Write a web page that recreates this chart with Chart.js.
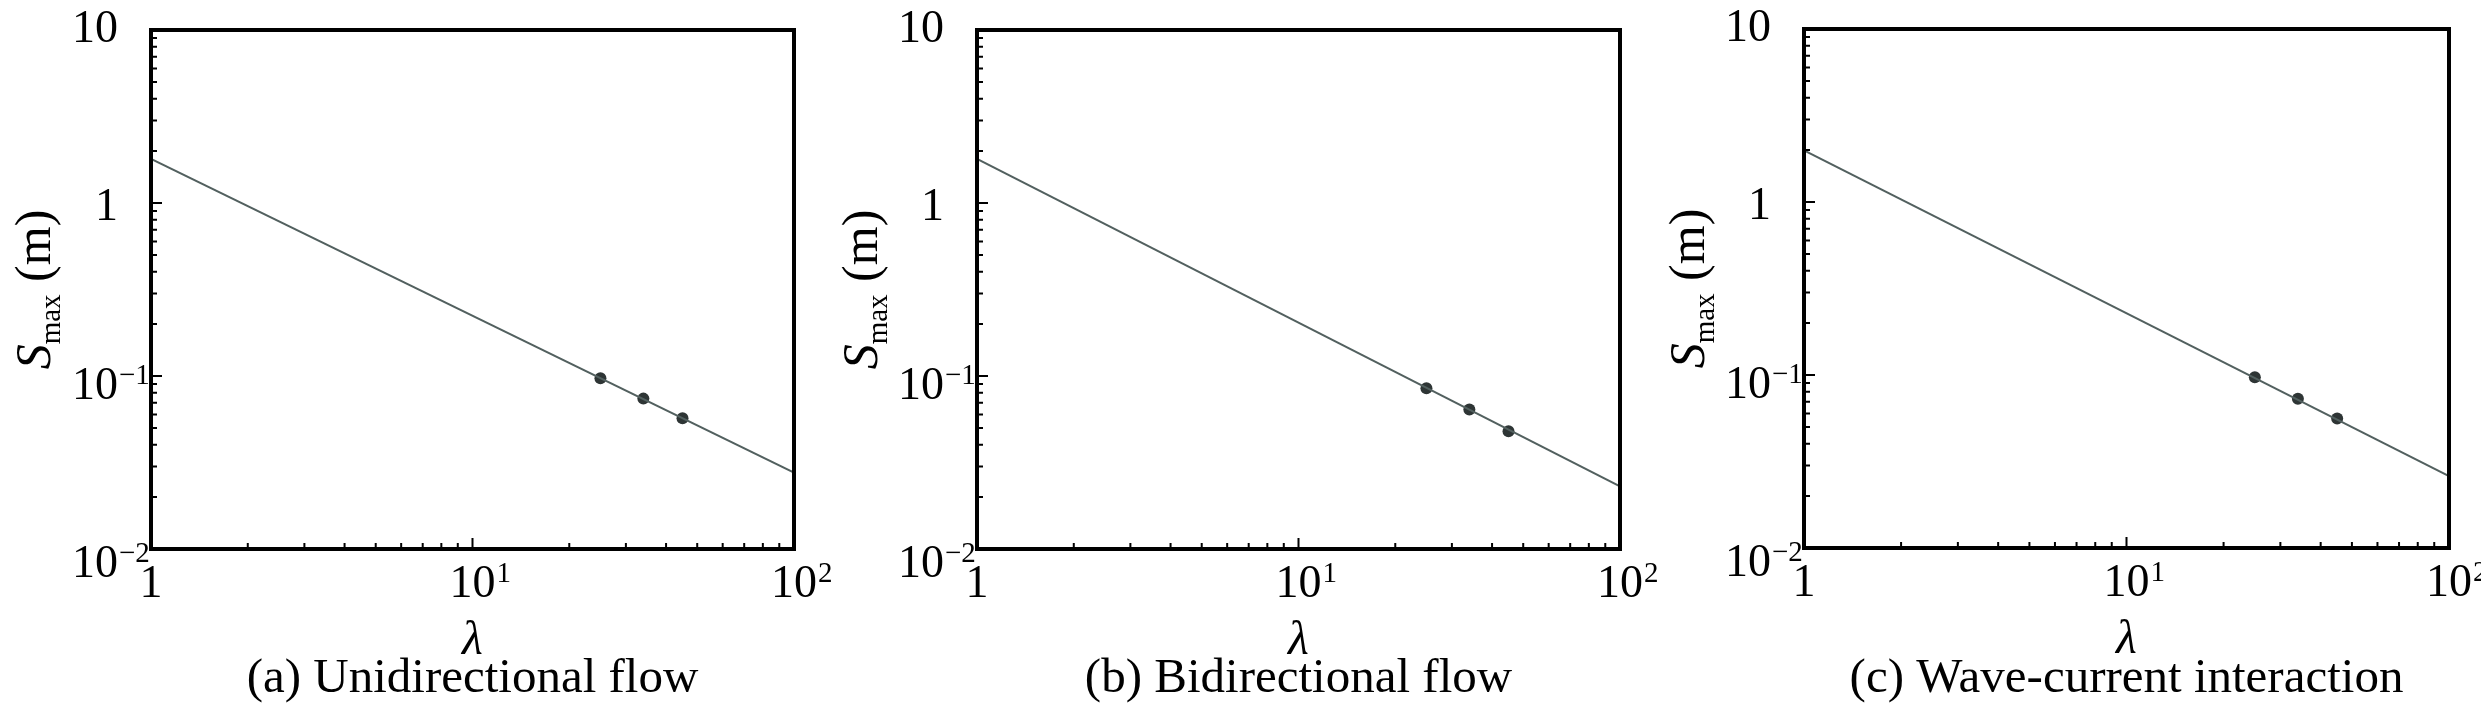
<!DOCTYPE html>
<html lang="en">
<head>
  <meta charset="UTF-8" />
  <title>S_max vs lambda</title>
  <script src="https://cdn.jsdelivr.net/npm/chart.js"></script>
  <style>
    body { margin: 0; background: #fff; width: 2481px; height: 708px; position: relative; overflow: hidden; }
    .panel { position: absolute; top: 0; width: 870px; height: 708px; }
  </style>
</head>
<body>
  <div class="panel" style="left:0px"><canvas id="chartA" width="870" height="708"></canvas></div>
  <div class="panel" style="left:827px"><canvas id="chartB" width="870" height="708"></canvas></div>
  <div class="panel" style="left:1654px"><canvas id="chartC" width="870" height="708"></canvas></div>

  <script>
    // measured points (lambda, S_max in m)
    const lambdaPts = [25, 34, 45];
    const sUni = [0.097, 0.074, 0.057];
    const sBi = [0.085, 0.064, 0.048];
    const sWave = [0.097, 0.073, 0.056];

    // fitted power-law lines, given by their ends
    const fitLambda = [1, 100];
    const fitUni = [1.80, 0.0276];
    const fitBi = [1.80, 0.023];
    const fitWave = [1.99, 0.026];

    // axis ticks
    const xTickVals = [1, 10, 100];
    const xTickBase = ['1', '10', '10'];
    const xTickExp = ['', '1', '2'];
    const yTickVals = [0.01, 0.1, 1, 10];
    const yTickBase = ['10', '10', '1', '10'];
    const yTickExp = ['\u22122', '\u22121', '', ''];

    const captions = ['(a) Unidirectional flow', '(b) Bidirectional flow', '(c) Wave-current interaction'];

    const SERIF = '"Liberation Serif", "Times New Roman", serif';

    function minorsOf(majors) {
      const out = [];
      for (let i = 0; i < majors.length - 1; i++) {
        for (let k = 2; k <= 9; k++) out.push(majors[i] * k);
      }
      return out;
    }

    // draws "base" with an optional superscript exponent
    function drawPow(ctx, base, exp, x, y, align) {
      ctx.font = '46px ' + SERIF;
      const wb = ctx.measureText(base).width;
      let left = align === 'right' ? x - wb : x - wb / 2;
      ctx.textAlign = 'left';
      ctx.textBaseline = 'alphabetic';
      ctx.fillText(base, left, y);
      if (exp) {
        ctx.font = '29px ' + SERIF;
        ctx.fillText(exp, left + wb + 1, y - 15);
      }
    }

    const frame = {
      id: 'frame',
      afterDraw(chart, args, opts) {
        const ctx = chart.ctx;
        const a = chart.chartArea;
        const xs = chart.scales.x, ys = chart.scales.y;
        ctx.save();
        ctx.fillStyle = '#000';
        ctx.strokeStyle = '#000';

        // ticks (inward)
        ctx.lineWidth = 2;
        ctx.beginPath();
        yTickVals.forEach(v => { const p = ys.getPixelForValue(v); ctx.moveTo(a.left, p); ctx.lineTo(a.left + 11, p); });
        minorsOf(yTickVals).forEach(v => { const p = ys.getPixelForValue(v); ctx.moveTo(a.left, p); ctx.lineTo(a.left + 6, p); });
        xTickVals.forEach(v => { const p = xs.getPixelForValue(v); ctx.moveTo(p, a.bottom); ctx.lineTo(p, a.bottom - 11); });
        minorsOf(xTickVals).forEach(v => { const p = xs.getPixelForValue(v); ctx.moveTo(p, a.bottom); ctx.lineTo(p, a.bottom - 6); });
        ctx.stroke();

        // box
        ctx.lineWidth = 4;
        ctx.strokeRect(a.left, a.top, a.right - a.left, a.bottom - a.top);

        // tick labels
        yTickVals.forEach((v, i) => {
          const p = ys.getPixelForValue(v);
          drawPow(ctx, yTickBase[i], yTickExp[i], a.left - 33, p + 12 + 0.031 * (p - a.top), 'right');
        });
        xTickVals.forEach((v, i) => {
          const p = xs.getPixelForValue(v);
          drawPow(ctx, xTickBase[i], xTickExp[i], p, a.bottom + 48, 'center');
        });

        // x title
        ctx.font = 'italic 48px ' + SERIF;
        ctx.textAlign = 'center';
        ctx.fillText('\u03bb', (a.left + a.right) / 2, a.bottom + 105);

        // y title: S_max (m), rotated
        ctx.save();
        ctx.translate(50, (a.top + a.bottom) / 2);
        ctx.rotate(-Math.PI / 2);
        ctx.textAlign = 'left';
        ctx.font = 'italic 50px ' + SERIF;
        const wS = ctx.measureText('S').width;
        ctx.font = '29px ' + SERIF;
        const wSub = ctx.measureText('max').width;
        ctx.font = '50px ' + SERIF;
        const wRest = ctx.measureText(' (m)').width;
        let x0 = -(wS + wSub + wRest) / 2;
        ctx.font = 'italic 50px ' + SERIF;
        ctx.fillText('S', x0, 0);
        ctx.font = '29px ' + SERIF;
        ctx.fillText('max', x0 + wS, 10);
        ctx.font = '50px ' + SERIF;
        ctx.fillText(' (m)', x0 + wS + wSub, 0);
        ctx.restore();

        // caption
        ctx.font = '49px ' + SERIF;
        ctx.textAlign = 'center';
        ctx.fillText(opts.caption, (a.left + a.right) / 2, 692);
        ctx.restore();
      }
    };

    function makeChart(id, fitVals, ptVals, caption, pad) {
      const fitData = fitLambda.map((x, i) => ({ x: x, y: fitVals[i] }));
      const ptData = lambdaPts.map((x, i) => ({ x: x, y: ptVals[i] }));
      return new Chart(document.getElementById(id), {
        type: 'scatter',
        data: {
          datasets: [
            { data: fitData, showLine: true, borderColor: '#52605f', borderWidth: 2, pointRadius: 0, fill: false },
            { data: ptData, showLine: false, backgroundColor: '#2e3535', borderColor: '#2e3535', pointRadius: 6, borderWidth: 0 }
          ]
        },
        options: {
          responsive: false,
          animation: false,
          devicePixelRatio: 1,
          layout: { padding: pad },
          plugins: { legend: { display: false }, tooltip: { enabled: false }, frame: { caption: caption } },
          scales: {
            x: { type: 'logarithmic', min: 1, max: 100, display: false },
            y: { type: 'logarithmic', min: 0.01, max: 10, display: false }
          }
        },
        plugins: [frame]
      });
    }

    makeChart('chartA', fitUni, sUni, captions[0], { left: 151, right: 76, top: 30, bottom: 159 });
    makeChart('chartB', fitBi, sBi, captions[1], { left: 150, right: 77, top: 30, bottom: 159 });
    makeChart('chartC', fitWave, sWave, captions[2], { left: 150, right: 75, top: 29, bottom: 160 });
  </script>
</body>
</html>
